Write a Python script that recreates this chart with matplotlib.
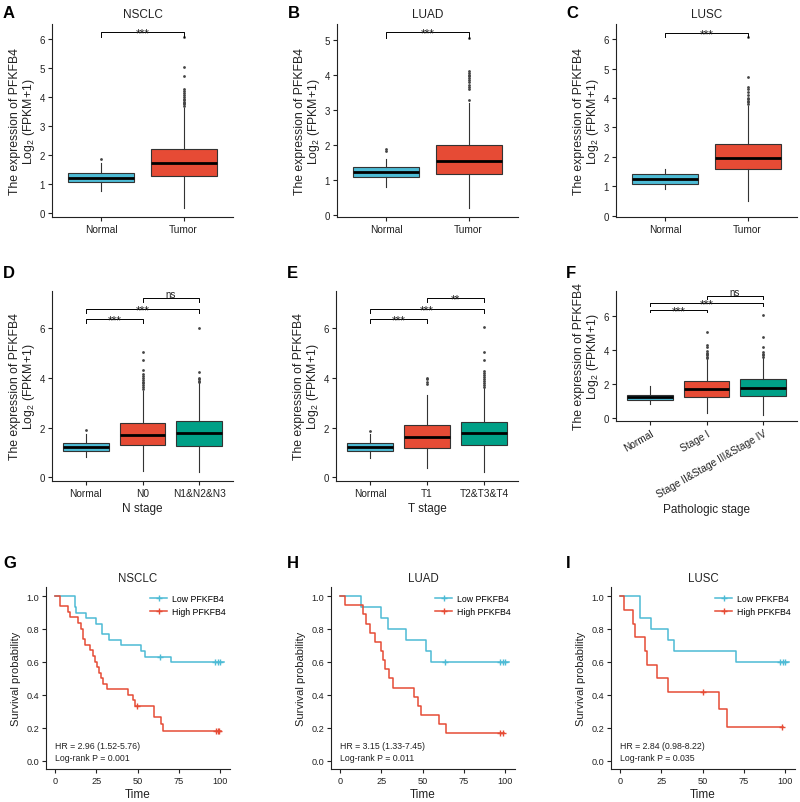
import numpy as np
import matplotlib
matplotlib.use('Agg')
import matplotlib.pyplot as plt
from matplotlib.lines import Line2D

plt.rcParams['font.family'] = ['Liberation Sans', 'DejaVu Sans']
plt.rcParams['mathtext.fontset'] = 'custom'
plt.rcParams['mathtext.rm'] = 'Liberation Sans'
plt.rcParams['mathtext.it'] = 'Liberation Sans:italic'
plt.rcParams['mathtext.bf'] = 'Liberation Sans:bold'

BLUE = '#4DBBD5'
RED = '#E64B35'
GREEN = '#00A087'
INK = '#222222'

# ---- box plot data: (whisker low, q1, median, q3, whisker high) ----
two_groups = ['Normal', 'Tumor']
nsclc_box = [(0.76, 1.07, 1.22, 1.38, 1.72), (0.17, 1.28, 1.71, 2.20, 3.62)]
nsclc_out = [[1.88], [3.71, 3.76, 3.8, 3.85, 3.9, 3.95, 4.0, 4.07, 4.15, 4.22, 4.29, 4.72, 5.03, 6.07]]
luad_box = [(0.79, 1.07, 1.21, 1.35, 1.6), (0.19, 1.15, 1.53, 1.98, 3.2)]
luad_out = [[1.83, 1.88], [3.27, 3.6, 3.65, 3.7, 3.8, 3.85, 3.9, 3.95, 4.0, 4.05, 4.12, 5.05]]
lusc_box = [(0.92, 1.09, 1.24, 1.40, 1.60), (0.48, 1.57, 1.97, 2.44, 3.72)]
lusc_out = [[], [3.78, 3.85, 3.9, 3.95, 4.0, 4.1, 4.2, 4.3, 4.38, 4.72, 6.07]]

n_groups = ['Normal', 'N0', 'N1&N2&N3']
n_box = [(0.8, 1.07, 1.2, 1.38, 1.75), (0.27, 1.3, 1.71, 2.2, 3.48), (0.2, 1.27, 1.77, 2.26, 3.78)]
n_out = [[1.9], [3.55, 3.62, 3.7, 3.78, 3.85, 3.92, 4.0, 4.08, 4.15, 4.32, 4.71, 5.06],
         [3.82, 3.88, 3.95, 4.0, 4.22, 6.02]]
t_groups = ['Normal', 'T1', 'T2&T3&T4']
t_box = [(0.78, 1.07, 1.23, 1.38, 1.75), (0.36, 1.18, 1.61, 2.1, 3.32), (0.2, 1.31, 1.78, 2.24, 3.6)]
t_out = [[1.87], [3.75, 3.85, 3.95, 4.0],
         [3.65, 3.72, 3.8, 3.88, 3.95, 4.02, 4.1, 4.18, 4.28, 4.71, 5.05, 6.05]]
s_groups = ['Normal', 'Stage I', 'Stage II&Stage III&Stage IV']
s_box = [(0.79, 1.05, 1.2, 1.35, 1.9), (0.26, 1.23, 1.68, 2.18, 3.47), (0.16, 1.27, 1.78, 2.26, 3.56)]
s_out = [[], [3.55, 3.62, 3.7, 3.78, 3.85, 3.96, 4.16, 4.3, 5.07],
         [3.62, 3.7, 3.78, 3.86, 4.16, 4.75, 6.1]]

# brackets: (x1, x2, y, label)
n_sig = [(1, 2, 6.39, '***'), (1, 3, 6.79, '***'), (2, 3, 7.2, 'ns')]
t_sig = [(1, 2, 6.39, '***'), (1, 3, 6.79, '***'), (2, 3, 7.2, '**')]
s_sig = [(1, 2, 6.39, '***'), (1, 3, 6.79, '***'), (2, 3, 7.2, 'ns')]

# ---- survival data: event times and survival after each event ----
g_low_t = [12, 13, 19, 25, 28.5, 32.5, 40, 52, 54.5, 70]
g_low_s = [0.933, 0.9, 0.867, 0.833, 0.767, 0.733, 0.7, 0.667, 0.633, 0.597]
g_low_c = [63.5, 97, 98.5, 100]
g_high_t = [3, 8, 9, 14, 15.5, 17, 18.5, 21.5, 23, 24.5, 25.5, 26.5, 28, 29, 31.5, 44.5, 47, 48.5, 60, 64, 65.3]
g_high_s = [0.94, 0.903, 0.87, 0.837, 0.8, 0.737, 0.703, 0.67, 0.637, 0.6, 0.567, 0.533, 0.5, 0.467,
            0.433, 0.4, 0.367, 0.333, 0.267, 0.225, 0.183]
g_high_c = [49.5, 97.5, 98.5, 99.5]

h_low_t = [13, 25, 29, 40, 52, 55]
h_low_s = [0.933, 0.867, 0.8, 0.733, 0.667, 0.6]
h_low_c = [63.5, 97, 98.5, 100]
h_high_t = [3, 14, 16, 18, 21, 25, 26, 27, 29.5, 32, 45, 47.5, 49, 60, 64]
h_high_s = [0.944, 0.889, 0.833, 0.778, 0.722, 0.667, 0.611, 0.556, 0.5, 0.444, 0.389, 0.333,
            0.278, 0.222, 0.167]
h_high_c = [97, 98.5]

i_low_t = [12, 19, 29, 33, 70]
i_low_s = [0.867, 0.8, 0.733, 0.667, 0.6]
i_low_c = [97, 98.5, 100]
i_high_t = [2.5, 8, 9, 15, 16.5, 22.5, 29, 60, 65]
i_high_s = [0.917, 0.833, 0.75, 0.667, 0.583, 0.5, 0.417, 0.3125, 0.208]
i_high_c = [50, 98]

W, H = 800, 803
fig = plt.figure(figsize=(W / 100, H / 100), dpi=100)
fig.patch.set_facecolor('white')


def add_ax(l, t, r, b):
    return fig.add_axes([l / W, 1 - b / H, (r - l) / W, (b - t) / H])


def style(ax, size):
    for s in ['top', 'right']:
        ax.spines[s].set_visible(False)
    for s in ['left', 'bottom']:
        ax.spines[s].set_linewidth(0.8)
        ax.spines[s].set_color(INK)
    ax.tick_params(length=3, width=0.8, colors=INK, labelsize=size, pad=2)


def box_panel(ax, groups, box, out, colors, ylim, yticks, sig, title=None, xlabel=None):
    style(ax, 7)
    ax.tick_params(axis='x', labelsize=7.3)
    stats = [dict(whislo=b[0], q1=b[1], med=b[2], q3=b[3], whishi=b[4], fliers=o)
             for b, o in zip(box, out)]
    bp = ax.bxp(stats, positions=range(1, len(groups) + 1), widths=0.8, patch_artist=True,
                showcaps=False,
                boxprops=dict(edgecolor='#333333', linewidth=0.8),
                medianprops=dict(color='black', linewidth=2),
                whiskerprops=dict(color='#333333', linewidth=0.8),
                flierprops=dict(marker='o', markersize=2, markerfacecolor='#444444',
                                markeredgecolor='none'))
    for patch, c in zip(bp['boxes'], colors):
        patch.set_facecolor(c)
    ax.set_xlim(0.4, len(groups) + 0.6)
    ax.set_ylim(*ylim)
    ax.set_yticks(yticks)
    ax.set_xticks(range(1, len(groups) + 1), groups)
    ax.set_ylabel('The expression of PFKFB4\nLog$_{\\mathrm{2}}$ (FPKM+1)', fontsize=8.8,
                  color=INK, labelpad=2, linespacing=0.95)
    for x1, x2, y, lab in sig:
        h = 0.16
        ax.plot([x1, x1, x2, x2], [y - h, y, y, y - h], color='black', lw=0.7, clip_on=False)
        if lab == 'ns':
            ax.annotate(lab, xy=((x1 + x2) / 2, y), xytext=(0, 1.0), textcoords='offset points',
                        ha='center', va='baseline', fontsize=7, color=INK)
        else:
            ax.annotate(lab, xy=((x1 + x2) / 2, y), xytext=(0, -3.2), textcoords='offset points',
                        ha='center', va='baseline', fontsize=8.5, color=INK)
    if title:
        ax.set_title(title, fontsize=8.5, pad=5, color=INK)
    if xlabel:
        ax.set_xlabel(xlabel, fontsize=8.5, color=INK, labelpad=3)


def km_curve(ax, t, s, cens, color, end):
    tt = [0] + list(t) + [end]
    ss = [1.0] + list(s) + [s[-1]]
    ax.step(tt, ss, where='post', color=color, lw=1.1)
    idx = np.searchsorted(np.array(t), np.array(cens), side='right') - 1
    cs = [s[i] if i >= 0 else 1.0 for i in idx]
    ax.plot(cens, cs, linestyle='none', marker='+', markersize=5, mew=1, color=color)


def km_panel(ax, title, low, high, hr, p):
    style(ax, 6.6)
    km_curve(ax, *low, BLUE, low[2][-1] + 2.5)
    km_curve(ax, *high, RED, high[2][-1] + 1)
    ax.set_xlim(-5.4, 106)
    ax.set_ylim(-0.05, 1.055)
    ax.set_xticks([0, 25, 50, 75, 100])
    ax.set_yticks([0, 0.2, 0.4, 0.6, 0.8, 1.0], ['0.0', '0.2', '0.4', '0.6', '0.8', '1.0'])
    ax.set_title(title, fontsize=8.3, pad=4, color=INK)
    ax.set_xlabel('Time', fontsize=8.5, color=INK, labelpad=2)
    ax.set_ylabel('Survival probability', fontsize=8, color=INK, labelpad=4)
    ax.text(0, 0.09, hr, fontsize=6.3, va='center', color=INK)
    ax.text(0, 0.02, p, fontsize=6.3, va='center', color=INK)
    handles = [Line2D([], [], color=BLUE, lw=1.1, marker='+', markersize=5, mew=1),
               Line2D([], [], color=RED, lw=1.1, marker='+', markersize=5, mew=1)]
    ax.legend(handles, ['Low PFKFB4', 'High PFKFB4'], loc='upper left',
              bbox_to_anchor=(0.565, 0.96), frameon=False, fontsize=6.3, borderpad=0,
              handlelength=2.0, handletextpad=0.5, labelspacing=0.45, borderaxespad=0)


axA = add_ax(52, 25, 233, 218)
box_panel(axA, two_groups, nsclc_box, nsclc_out, [BLUE, RED], (-0.14, 6.53), range(0, 7),
          [(1, 2, 6.24, '***')], title='NSCLC')
axB = add_ax(337, 25, 518, 218)
box_panel(axB, two_groups, luad_box, luad_out, [BLUE, RED], (-0.07, 5.45), range(0, 6),
          [(1, 2, 5.21, '***')], title='LUAD')
axC = add_ax(616, 25, 797, 218)
box_panel(axC, two_groups, lusc_box, lusc_out, [BLUE, RED], (-0.05, 6.52), range(0, 7),
          [(1, 2, 6.23, '***')], title='LUSC')

axD = add_ax(52, 292, 233, 482)
box_panel(axD, n_groups, n_box, n_out, [BLUE, RED, GREEN], (-0.15, 7.5), [0, 2, 4, 6],
          n_sig, xlabel='N stage')
axE = add_ax(336, 292, 518, 482)
box_panel(axE, t_groups, t_box, t_out, [BLUE, RED, GREEN], (-0.15, 7.5), [0, 2, 4, 6],
          t_sig, xlabel='T stage')
axF = add_ax(616, 292, 797, 422)
box_panel(axF, s_groups, s_box, s_out, [BLUE, RED, GREEN], (-0.2, 7.5), [0, 2, 4, 6],
          s_sig, xlabel='Pathologic stage')
for lab in axF.get_xticklabels():
    lab.set_rotation(30)
    lab.set_ha('right')
    lab.set_rotation_mode('anchor')

axG = add_ax(46, 588, 230, 770)
km_panel(axG, 'NSCLC', (g_low_t, g_low_s, g_low_c), (g_high_t, g_high_s, g_high_c),
         'HR = 2.96 (1.52-5.76)', 'Log-rank P = 0.001')
axH = add_ax(331, 588, 515, 770)
km_panel(axH, 'LUAD', (h_low_t, h_low_s, h_low_c), (h_high_t, h_high_s, h_high_c),
         'HR = 3.15 (1.33-7.45)', 'Log-rank P = 0.011')
axI = add_ax(611, 588, 795, 770)
km_panel(axI, 'LUSC', (i_low_t, i_low_s, i_low_c), (i_high_t, i_high_s, i_high_c),
         'HR = 2.84 (0.98-8.22)', 'Log-rank P = 0.035')

letters = [('A', 3, 18.5), ('B', 288, 18.5), ('C', 566, 18.5),
           ('D', 3, 278), ('E', 287, 278), ('F', 566, 278),
           ('G', 3, 568), ('H', 287, 568), ('I', 566, 568)]
for txt, x, y in letters:
    fig.text(x / W, 1 - y / H, txt, fontsize=12, fontweight='bold', va='baseline', ha='left')

fig.savefig('out.png', dpi=100)
